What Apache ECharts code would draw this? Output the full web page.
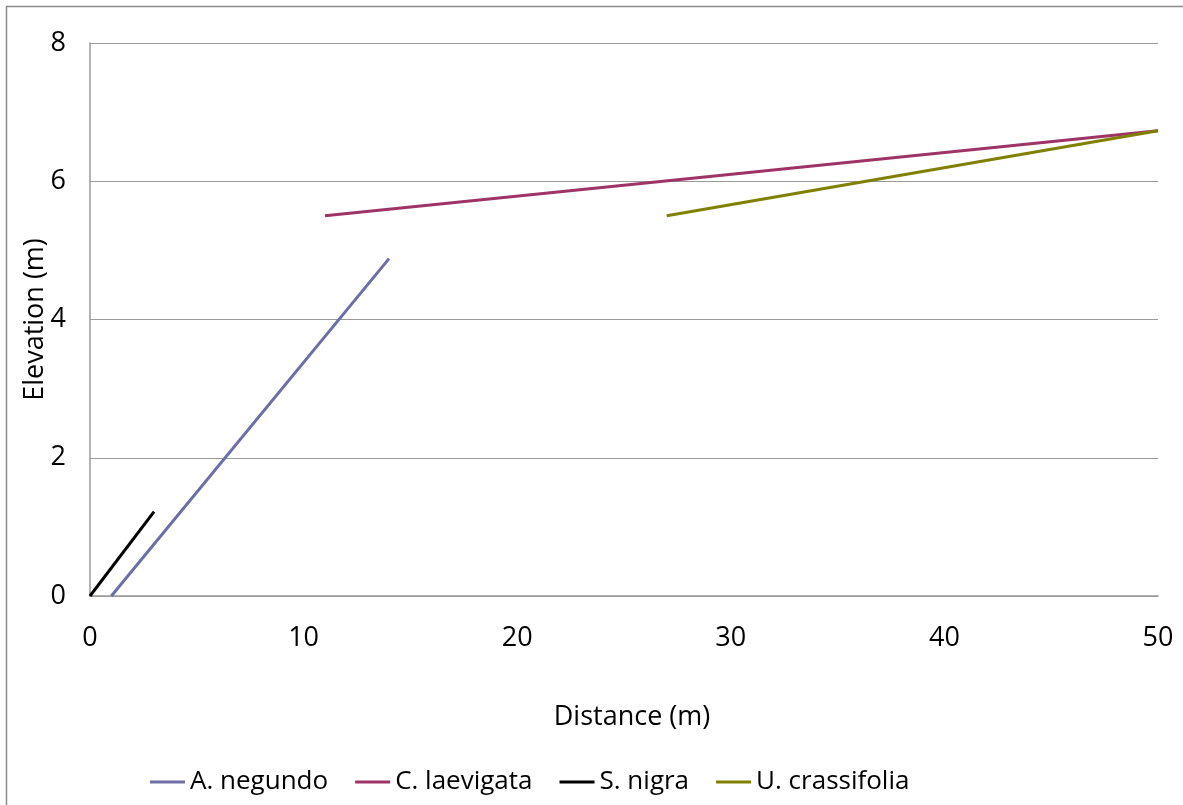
<!DOCTYPE html>
<html>
<head>
<meta charset="utf-8">
<script src="https://cdn.jsdelivr.net/npm/echarts@6/dist/echarts.min.js"></script>
<style>html,body{margin:0;padding:0;background:#fff;}#c{width:1183px;height:805px;}</style>
</head>
<body>
<div id="c"></div>
<script>
const seriesNames = ['A. negundo', 'C. laevigata', 'S. nigra', 'U. crassifolia'];
const aNegundo = [[1, 0], [14, 4.88]];
const cLaevigata = [[11, 5.5], [50, 6.73]];
const sNigra = [[0, 0], [3, 1.22]];
const uCrassifolia = [[27, 5.5], [50, 6.73]];
const colors = ['#6E6EA6', '#9E3366', '#000000', '#808000'];

const font = 'Open Sans, Noto Sans, sans-serif';
const chart = echarts.init(document.getElementById('c'), null, {renderer: 'canvas'});
const datas = [aNegundo, cLaevigata, sNigra, uCrassifolia];
chart.setOption({
  animation: false,
  backgroundColor: '#fff',
  graphic: [{
    type: 'rect', left: 4, top: 4, silent: true,
    shape: {width: 1190, height: 810},
    style: {fill: 'none', stroke: '#8c8c8c', lineWidth: 1.5}
  }],
  grid: {left: 90, top: 43, right: 25, bottom: 209, containLabel: false},
  legend: {
    left: 145, top: 764, itemWidth: 35, itemHeight: 3, itemGap: 27,
    icon: 'rect',
    textStyle: {fontFamily: font, fontSize: 26, color: '#000'},
    data: seriesNames
  },
  xAxis: {
    type: 'value', min: 0, max: 50, interval: 10,
    name: 'Distance (m)', nameLocation: 'middle', nameGap: 108, nameMoveOverlap: false,
    nameTextStyle: {fontFamily: font, fontSize: 27, color: '#000', padding: [0, 0, 0, 16]},
    axisLine: {show: true, lineStyle: {color: '#9a9a9a', width: 1.5}},
    axisTick: {show: false},
    splitLine: {show: false},
    axisLabel: {fontFamily: font, fontSize: 27, color: '#000', margin: 29}
  },
  yAxis: {
    type: 'value', min: 0, max: 8, interval: 2,
    name: 'Elevation (m)', nameLocation: 'middle', nameGap: 41, nameRotate: 90, nameMoveOverlap: false,
    nameTextStyle: {fontFamily: font, fontSize: 27, color: '#000'},
    axisLine: {show: true, lineStyle: {color: '#9a9a9a', width: 1.5}},
    axisTick: {show: false},
    splitLine: {show: true, lineStyle: {color: '#9a9a9a', width: 1}},
    axisLabel: {fontFamily: font, fontSize: 27, color: '#000', margin: 24}
  },
  series: seriesNames.map((n, i) => ({
    name: n, type: 'line', data: datas[i], showSymbol: false, symbol: 'none',
    lineStyle: {color: colors[i], width: 3}, itemStyle: {color: colors[i]}
  }))
});
</script>
</body>
</html>
